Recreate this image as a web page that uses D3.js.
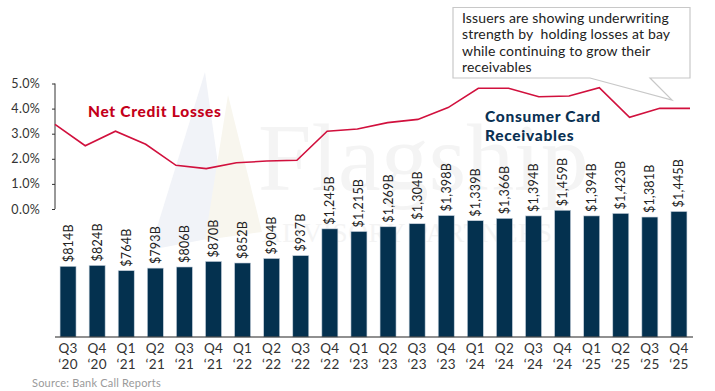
<!DOCTYPE html>
<meta charset="utf-8">
<script src="https://d3js.org/d3.v7.min.js"></script>
<style>
  body { margin: 0; background: #fff; }
  svg text { font-family: "Lato", "Open Sans", sans-serif; }
</style>
<div id="chart"></div>
<script>
// data
var quarters = ["Q3 '20","Q4 '20","Q1 '21","Q2 '21","Q3 '21","Q4 '21","Q1 '22","Q2 '22","Q3 '22","Q4 '22",
                "Q1 '23","Q2 '23","Q3 '23","Q4 '23","Q1 '24","Q2 '24","Q3 '24","Q4 '24","Q1 '25","Q2 '25","Q3 '25","Q4 '25"];
var receivables = [814, 824, 764, 793, 806, 870, 852, 904, 937, 1245, 1215, 1269, 1304, 1398, 1339, 1366, 1394, 1459, 1394, 1423, 1381, 1445];
var lossRate = [3.37, 2.52, 3.10, 2.58, 1.74, 1.61, 1.84, 1.91, 1.94, 3.10, 3.19, 3.44, 3.57, 4.04, 4.81, 4.81, 4.47, 4.50, 4.83, 3.65, 4.01, 4.01];
var pctTicks = [0, 1, 2, 3, 4, 5];
var calloutLines = ["Issuers are showing underwriting", "strength by  holding losses at bay", "while continuing to grow their", "receivables"];

var width = 715, height = 391;

var svg = d3.select("#chart").append("svg")
    .attr("width", width)
    .attr("height", height);

// faint watermark
var wm = svg.append("g").attr("fill", "#f4f4f4");
wm.append("path").attr("d", "M205,72 L150,250 L228,235 Z").attr("fill", "#f1f3f8");
wm.append("path").attr("d", "M228,95 L205,240 L262,232 Z").attr("fill", "#f8f6ee");
wm.append("text").attr("x", 258).attr("y", 190)
    .style("font-family", "'Liberation Serif', serif").style("font-size", "96px")
    .text("Flagship");
wm.append("text").attr("x", 262).attr("y", 242)
    .style("font-family", "'Liberation Serif', serif").style("font-size", "27px")
    .attr("textLength", 290).attr("lengthAdjust", "spacing")
    .text("ADVISORY PARTNERS");

// scales
var x = d3.scaleBand().domain(quarters).range([53.5, 693.5]).paddingInner(0.45).paddingOuter(0.225);
var xLine = d3.scalePoint().domain(quarters).range([55, 690]);
var yBar = d3.scaleLinear().domain([0, 3000]).range([337, 76.4]);
var yPct = d3.scaleLinear().domain([0, 5]).range([209, 83.5]);

// bars
svg.selectAll(".bar")
  .data(receivables)
  .enter().append("rect")
    .attr("class", "bar")
    .attr("x", function(d, i) { return x(quarters[i]); })
    .attr("width", x.bandwidth())
    .attr("y", function(d) { return yBar(d); })
    .attr("height", function(d) { return yBar(0) - yBar(d); })
    .attr("fill", "#04314f")
    .attr("stroke", "#c9d3de")
    .attr("stroke-width", 0.6);

// bar value labels
svg.selectAll(".barlabel")
  .data(receivables)
  .enter().append("text")
    .attr("class", "barlabel")
    .attr("transform", function(d, i) {
      return "translate(" + (x(quarters[i]) + x.bandwidth() / 2 + 4.5) + "," + (yBar(d) - 4) + ") rotate(-90)";
    })
    .style("font-size", "12.5px")
    .style("letter-spacing", "0.2px")
    .attr("fill", "#222")
    .text(function(d) { return "$" + d3.format(",")(d) + "B"; });

// x axis
svg.append("line")
    .attr("x1", 55).attr("x2", 693)
    .attr("y1", 337).attr("y2", 337)
    .attr("stroke", "#222").attr("stroke-width", 1.2);

var xl = svg.selectAll(".xlab")
  .data(quarters)
  .enter().append("text")
    .attr("class", "xlab")
    .attr("text-anchor", "middle")
    .attr("fill", "#333")
    .style("font-size", "13.5px")
    .style("letter-spacing", "0.3px");
xl.append("tspan")
    .attr("x", function(d) { return x(d) + x.bandwidth() / 2; })
    .attr("y", 353)
    .text(function(d) { return d.split(" ")[0]; });
xl.append("tspan")
    .attr("x", function(d) { return x(d) + x.bandwidth() / 2; })
    .attr("y", 369)
    .text(function(d) { return "\u2018" + d.split(" ")[1].slice(1); });

// percent axis
var yAxis = svg.append("g")
    .attr("transform", "translate(55,0)")
    .call(d3.axisLeft(yPct).tickValues(pctTicks).tickSize(3).tickPadding(12)
      .tickFormat(function(d) { return d.toFixed(1) + "%"; }));
yAxis.select(".domain").attr("stroke", "#333").attr("d", "M0," + yPct(5) + "V" + yPct(0));
yAxis.selectAll(".tick line").attr("stroke", "#333");
yAxis.selectAll(".tick text")
    .style("font-family", "Lato, 'Open Sans', sans-serif")
    .style("font-size", "12.5px")
    .style("letter-spacing", "0.3px")
    .attr("fill", "#333");

// callout box
svg.append("path")
    .attr("d", "M453,7.5 H690 V78 H650 L672,100 L590,78 H453 Z")
    .attr("fill", "#fff")
    .attr("stroke", "#c8c8c8")
    .attr("stroke-width", 1.2);
svg.selectAll(".callout")
  .data(calloutLines)
  .enter().append("text")
    .attr("x", 462)
    .attr("y", function(d, i) { return 23 + i * 16.3; })
    .attr("fill", "#222")
    .style("font-size", "14px")
    .style("letter-spacing", "0.15px")
    .style("white-space", "pre")
    .text(function(d) { return d; });

// loss line
svg.append("path")
    .datum(lossRate)
    .attr("fill", "none")
    .attr("stroke", "#d1103d")
    .attr("stroke-width", 1.6)
    .attr("d", d3.line()
      .x(function(d, i) { return xLine(quarters[i]); })
      .y(function(d) { return yPct(d); }));

// series labels
svg.append("text")
    .attr("x", 88).attr("y", 117)
    .attr("fill", "#c4001a")
    .style("font-size", "15.5px").style("font-weight", "900")
    .style("letter-spacing", "0.7px")
    .text("Net Credit Losses");

var cc = svg.append("text")
    .attr("fill", "#0a3153")
    .style("font-size", "15.5px").style("font-weight", "900")
    .style("letter-spacing", "0.7px");
cc.append("tspan").attr("x", 485).attr("y", 122).text("Consumer Card");
cc.append("tspan").attr("x", 485).attr("y", 141).text("Receivables");

// source
svg.append("text")
    .attr("x", 32).attr("y", 387)
    .attr("fill", "#9a9a9a")
    .style("font-size", "11px")
    .style("letter-spacing", "0.2px")
    .text("Source: Bank Call Reports");
</script>
